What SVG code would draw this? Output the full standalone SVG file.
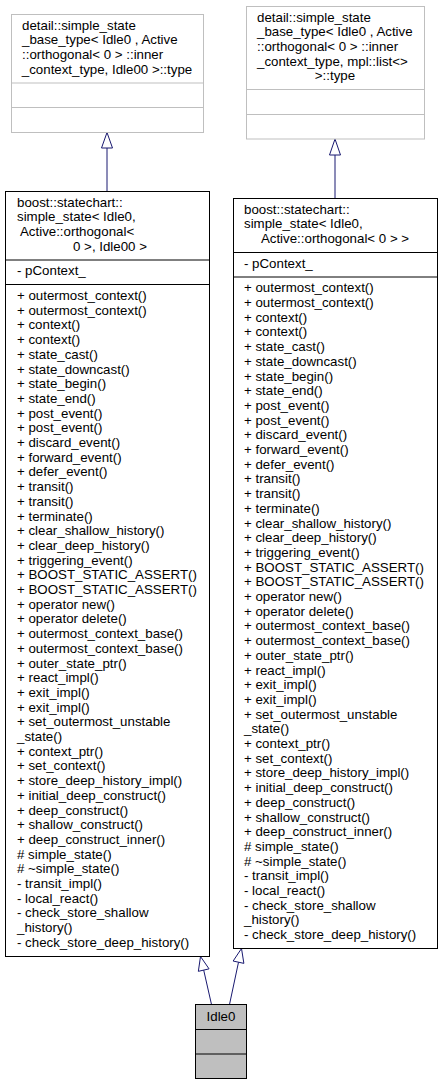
<svg xmlns="http://www.w3.org/2000/svg" width="443" height="1087" viewBox="0 0 443 1087">
<style>
text{font-family:"Liberation Sans",Arial,sans-serif;font-size:13.3px;fill:#000}
.m{text-anchor:middle}
.g{fill:#fff;stroke:#bfbfbf;stroke-width:1}
.k{fill:#fff;stroke:#000;stroke-width:1}
.gl{stroke:#bfbfbf;stroke-width:1}
.kl{stroke:#000;stroke-width:1}
.e{stroke:#191970;stroke-width:1;fill:none}
.h{stroke:#191970;stroke-width:1;fill:#fff}
</style>
<rect width="443" height="1087" fill="#fff"/>
<g id="edges">
<line class="e" x1="107" y1="191" x2="107" y2="148"/>
<polygon class="h" points="107,132.5 101.5,148 112.5,148"/>
<line class="e" x1="335" y1="198" x2="335" y2="155"/>
<polygon class="h" points="335,139 329.5,155 340.5,155"/>
<line class="e" x1="211.5" y1="1004.5" x2="203.7" y2="970.1"/>
<polygon class="h" points="200.5,956.5 209.05,968.86 198.35,971.34"/>
<line class="e" x1="229.5" y1="1004.5" x2="238.5" y2="962.2"/>
<polygon class="h" points="241.5,948.5 243.87,963.36 233.13,961.04"/>
</g>
<g id="base_left">
<rect class="g" x="11.5" y="14.5" width="192" height="118"/>
<line class="gl" x1="11.5" y1="83" x2="203.5" y2="83"/>
<line class="gl" x1="11.5" y1="107.5" x2="203.5" y2="107.5"/>
<text x="22" y="29.5">detail::simple_state</text>
<text x="22" y="44.2">_base_type&lt; Idle0 , Active</text>
<text x="22" y="58.9">::orthogonal&lt; 0 &gt; ::inner</text>
<text class="m" x="107" y="73.6">_context_type, Idle00 &gt;::type</text>
</g>
<g id="base_right">
<rect class="g" x="246.5" y="6.5" width="178" height="132.5"/>
<line class="gl" x1="246.5" y1="89.5" x2="424.5" y2="89.5"/>
<line class="gl" x1="246.5" y1="114.5" x2="424.5" y2="114.5"/>
<text x="257" y="21.5">detail::simple_state</text>
<text x="257" y="36.2">_base_type&lt; Idle0 , Active</text>
<text x="257" y="50.9">::orthogonal&lt; 0 &gt; ::inner</text>
<text x="257" y="65.6">_context_type, mpl::list&lt;&gt;</text>
<text class="m" x="335" y="80.3">&gt;::type</text>
</g>
<g id="simple_state_left">
<rect class="k" x="5.5" y="191.5" width="204" height="765"/>
<line class="kl" x1="5.5" y1="260" x2="209.5" y2="260"/>
<line class="kl" x1="5.5" y1="284.5" x2="209.5" y2="284.5"/>
<text x="17" y="206.5">boost::statechart::</text>
<text x="17" y="221.2">simple_state&lt; Idle0,</text>
<text x="17" y="235.9" xml:space="preserve"> Active::orthogonal&lt;</text>
<text class="m" x="110" y="250.6">0 &gt;, Idle00 &gt;</text>
<text x="17" y="275.3">- pContext_</text>
<text x="17" y="300">+ outermost_context()</text>
<text x="17" y="314.7">+ outermost_context()</text>
<text x="17" y="329.4">+ context()</text>
<text x="17" y="344.1">+ context()</text>
<text x="17" y="358.8">+ state_cast()</text>
<text x="17" y="373.5">+ state_downcast()</text>
<text x="17" y="388.2">+ state_begin()</text>
<text x="17" y="402.9">+ state_end()</text>
<text x="17" y="417.6">+ post_event()</text>
<text x="17" y="432.3">+ post_event()</text>
<text x="17" y="447">+ discard_event()</text>
<text x="17" y="461.7">+ forward_event()</text>
<text x="17" y="476.4">+ defer_event()</text>
<text x="17" y="491.1">+ transit()</text>
<text x="17" y="505.8">+ transit()</text>
<text x="17" y="520.5">+ terminate()</text>
<text x="17" y="535.2">+ clear_shallow_history()</text>
<text x="17" y="549.9">+ clear_deep_history()</text>
<text x="17" y="564.6">+ triggering_event()</text>
<text x="17" y="579.3">+ BOOST_STATIC_ASSERT()</text>
<text x="17" y="594">+ BOOST_STATIC_ASSERT()</text>
<text x="17" y="608.7">+ operator new()</text>
<text x="17" y="623.4">+ operator delete()</text>
<text x="17" y="638.1">+ outermost_context_base()</text>
<text x="17" y="652.8">+ outermost_context_base()</text>
<text x="17" y="667.5">+ outer_state_ptr()</text>
<text x="17" y="682.2">+ react_impl()</text>
<text x="17" y="696.9">+ exit_impl()</text>
<text x="17" y="711.6">+ exit_impl()</text>
<text x="17" y="726.3">+ set_outermost_unstable</text>
<text x="17" y="741">_state()</text>
<text x="17" y="755.7">+ context_ptr()</text>
<text x="17" y="770.4">+ set_context()</text>
<text x="17" y="785.1">+ store_deep_history_impl()</text>
<text x="17" y="799.8">+ initial_deep_construct()</text>
<text x="17" y="814.5">+ deep_construct()</text>
<text x="17" y="829.2">+ shallow_construct()</text>
<text x="17" y="843.9">+ deep_construct_inner()</text>
<text x="17" y="858.6"># simple_state()</text>
<text x="17" y="873.3"># ~simple_state()</text>
<text x="17" y="888">- transit_impl()</text>
<text x="17" y="902.7">- local_react()</text>
<text x="17" y="917.4">- check_store_shallow</text>
<text x="17" y="932.1">_history()</text>
<text x="17" y="946.8">- check_store_deep_history()</text>
</g>
<g id="simple_state_right">
<rect class="k" x="233.5" y="198.5" width="204" height="750"/>
<line class="kl" x1="233.5" y1="252.5" x2="437.5" y2="252.5"/>
<line class="kl" x1="233.5" y1="277" x2="437.5" y2="277"/>
<text x="244" y="213.5">boost::statechart::</text>
<text x="244" y="228.2">simple_state&lt; Idle0,</text>
<text class="m" x="335" y="242.9">Active::orthogonal&lt; 0 &gt; &gt;</text>
<text x="244" y="267.6">- pContext_</text>
<text x="244" y="292.3">+ outermost_context()</text>
<text x="244" y="307">+ outermost_context()</text>
<text x="244" y="321.7">+ context()</text>
<text x="244" y="336.4">+ context()</text>
<text x="244" y="351.1">+ state_cast()</text>
<text x="244" y="365.8">+ state_downcast()</text>
<text x="244" y="380.5">+ state_begin()</text>
<text x="244" y="395.2">+ state_end()</text>
<text x="244" y="409.9">+ post_event()</text>
<text x="244" y="424.6">+ post_event()</text>
<text x="244" y="439.3">+ discard_event()</text>
<text x="244" y="454">+ forward_event()</text>
<text x="244" y="468.7">+ defer_event()</text>
<text x="244" y="483.4">+ transit()</text>
<text x="244" y="498.1">+ transit()</text>
<text x="244" y="512.8">+ terminate()</text>
<text x="244" y="527.5">+ clear_shallow_history()</text>
<text x="244" y="542.2">+ clear_deep_history()</text>
<text x="244" y="556.9">+ triggering_event()</text>
<text x="244" y="571.6">+ BOOST_STATIC_ASSERT()</text>
<text x="244" y="586.3">+ BOOST_STATIC_ASSERT()</text>
<text x="244" y="601">+ operator new()</text>
<text x="244" y="615.7">+ operator delete()</text>
<text x="244" y="630.4">+ outermost_context_base()</text>
<text x="244" y="645.1">+ outermost_context_base()</text>
<text x="244" y="659.8">+ outer_state_ptr()</text>
<text x="244" y="674.5">+ react_impl()</text>
<text x="244" y="689.2">+ exit_impl()</text>
<text x="244" y="703.9">+ exit_impl()</text>
<text x="244" y="718.6">+ set_outermost_unstable</text>
<text x="244" y="733.3">_state()</text>
<text x="244" y="748">+ context_ptr()</text>
<text x="244" y="762.7">+ set_context()</text>
<text x="244" y="777.4">+ store_deep_history_impl()</text>
<text x="244" y="792.1">+ initial_deep_construct()</text>
<text x="244" y="806.8">+ deep_construct()</text>
<text x="244" y="821.5">+ shallow_construct()</text>
<text x="244" y="836.2">+ deep_construct_inner()</text>
<text x="244" y="850.9"># simple_state()</text>
<text x="244" y="865.6"># ~simple_state()</text>
<text x="244" y="880.3">- transit_impl()</text>
<text x="244" y="895">- local_react()</text>
<text x="244" y="909.7">- check_store_shallow</text>
<text x="244" y="924.4">_history()</text>
<text x="244" y="939.1">- check_store_deep_history()</text>
</g>
<g id="Idle0">
<rect x="195.5" y="1004.5" width="51" height="74" fill="#bfbfbf" stroke="#000" stroke-width="1"/>
<line class="kl" x1="195.5" y1="1029.5" x2="246.5" y2="1029.5"/>
<line class="kl" x1="195.5" y1="1054" x2="246.5" y2="1054"/>
<text class="m" x="221" y="1021">Idle0</text>
</g>
</svg>
